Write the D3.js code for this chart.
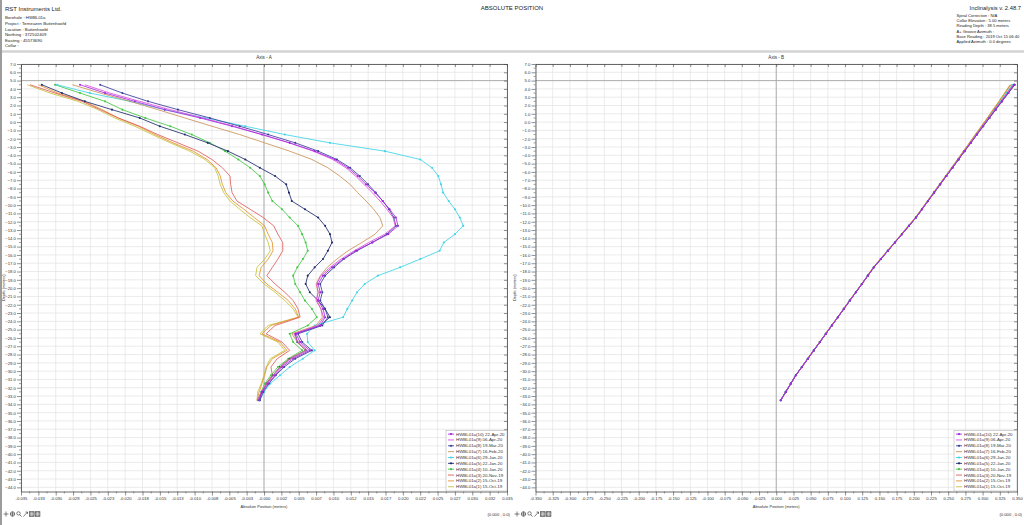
<!DOCTYPE html>
<html><head><meta charset="utf-8">
<script src="https://cdn.jsdelivr.net/npm/d3@7"></script>
<style>
html,body{margin:0;padding:0;background:#fff;}
svg{display:block;}
</style></head><body>
<svg id="c" width="1024" height="525"></svg>
<script>
// ---------------- DATA ----------------
const depths = [4.5,3.5,2.5,1.5,0.5,-0.5,-1.5,-2.5,-3.5,-4.5,-5.5,-6.5,-7.5,-8.5,-9.5,-10.5,-11.5,-12.5,-13.5,-14.5,-15.5,-16.5,-17.5,-18.5,-19.5,-20.5,-21.5,-22.5,-23.5,-24.5,-25.5,-26.5,-27.5,-28.5,-29.5,-30.5,-31.5,-32.5,-33.5];

const seriesLabels = ["HWBL01a(10) 22-Apr-20","HWBL01a(9) 06-Apr-20","HWBL01a(8) 19-Mar-20","HWBL01a(7) 16-Feb-20","HWBL01a(6) 29-Jan-20","HWBL01a(5) 22-Jan-20","HWBL01a(4) 10-Jan-20","HWBL01a(3) 20-Nov-19","HWBL01a(2) 15-Oct-19","HWBL01a(1) 15-Oct-19"];

// Axis A (meters)
const a10 = [-0.0265,-0.0229,-0.0186,-0.0143,-0.0092,-0.0046,-0.0003,0.0037,0.0073,0.0102,0.0121,0.0135,0.0147,0.0160,0.0171,0.0181,0.0190,0.0193,0.0179,0.0156,0.0132,0.0114,0.0098,0.0085,0.0078,0.0081,0.0078,0.0085,0.0088,0.0081,0.0046,0.0052,0.0066,0.0042,0.0026,0.0016,0.0006,-0.0003,-0.0007];
const a9  = [-0.0258,-0.0222,-0.0179,-0.0135,-0.0088,-0.0043,-0.0003,0.0036,0.0071,0.0099,0.0118,0.0132,0.0144,0.0156,0.0167,0.0177,0.0186,0.0189,0.0174,0.0151,0.0130,0.0111,0.0095,0.0082,0.0076,0.0078,0.0075,0.0082,0.0086,0.0078,0.0043,0.0049,0.0063,0.0039,0.0024,0.0014,0.0004,-0.0004,-0.0009];
const a8  = [-0.0236,-0.0204,-0.0167,-0.0124,-0.0078,-0.0035,0.0006,0.0045,0.0078,0.0105,0.0124,0.0138,0.0150,0.0161,0.0171,0.0180,0.0187,0.0190,0.0177,0.0156,0.0134,0.0115,0.0101,0.0088,0.0081,0.0084,0.0081,0.0088,0.0092,0.0084,0.0049,0.0055,0.0069,0.0045,0.0029,0.0017,0.0007,-0.0001,-0.0006];
const a7  = [-0.0276,-0.0236,-0.0193,-0.0153,-0.0114,-0.0075,-0.0035,0.0001,0.0037,0.0069,0.0092,0.0109,0.0124,0.0135,0.0147,0.0158,0.0167,0.0171,0.0160,0.0141,0.0121,0.0105,0.0091,0.0081,0.0075,0.0078,0.0076,0.0082,0.0084,0.0075,0.0040,0.0048,0.0060,0.0037,0.0023,0.0013,0.0004,-0.0004,-0.0009];
const a6  = [-0.0298,-0.0251,-0.0193,-0.0143,-0.0085,-0.0027,0.0030,0.0095,0.0174,0.0225,0.0242,0.0251,0.0255,0.0258,0.0266,0.0275,0.0282,0.0287,0.0275,0.0259,0.0253,0.0225,0.0196,0.0164,0.0145,0.0134,0.0127,0.0120,0.0114,0.0073,0.0062,0.0063,0.0073,0.0056,0.0037,0.0023,0.0009,0.0000,-0.0006];
const a5  = [-0.0320,-0.0291,-0.0258,-0.0219,-0.0179,-0.0150,-0.0114,-0.0081,-0.0052,-0.0027,-0.0006,0.0016,0.0032,0.0036,0.0040,0.0059,0.0078,0.0088,0.0095,0.0098,0.0092,0.0085,0.0073,0.0063,0.0060,0.0066,0.0078,0.0088,0.0095,0.0081,0.0045,0.0048,0.0060,0.0037,0.0023,0.0013,0.0004,-0.0003,-0.0007];
const a4  = [-0.0301,-0.0265,-0.0229,-0.0204,-0.0171,-0.0135,-0.0104,-0.0078,-0.0056,-0.0037,-0.0020,-0.0006,0.0001,0.0006,0.0012,0.0026,0.0037,0.0049,0.0055,0.0060,0.0063,0.0056,0.0048,0.0042,0.0045,0.0052,0.0059,0.0069,0.0076,0.0063,0.0037,0.0042,0.0055,0.0035,0.0020,0.0010,0.0001,-0.0004,-0.0009];
const a3  = [-0.0337,-0.0301,-0.0262,-0.0236,-0.0210,-0.0179,-0.0153,-0.0124,-0.0095,-0.0075,-0.0060,-0.0049,-0.0048,-0.0046,-0.0039,-0.0020,-0.0001,0.0014,0.0020,0.0027,0.0027,0.0020,0.0012,0.0004,0.0016,0.0030,0.0042,0.0049,0.0052,0.0016,0.0003,0.0026,0.0037,0.0019,0.0010,0.0012,0.0003,-0.0003,-0.0009];
const a2  = [-0.0325,-0.0297,-0.0259,-0.0233,-0.0210,-0.0181,-0.0157,-0.0131,-0.0102,-0.0082,-0.0069,-0.0063,-0.0060,-0.0055,-0.0045,-0.0029,-0.0014,0.0001,0.0006,0.0012,0.0013,0.0006,-0.0004,-0.0007,0.0004,0.0020,0.0035,0.0045,0.0050,0.0010,-0.0003,0.0023,0.0033,0.0012,0.0004,0.0001,-0.0003,-0.0007,-0.0010];
const a1  = [-0.0341,-0.0308,-0.0268,-0.0239,-0.0215,-0.0186,-0.0161,-0.0135,-0.0107,-0.0085,-0.0071,-0.0066,-0.0063,-0.0058,-0.0049,-0.0035,-0.0020,-0.0003,0.0001,0.0006,0.0009,0.0001,-0.0010,-0.0012,0.0000,0.0016,0.0030,0.0042,0.0049,0.0006,-0.0006,0.0020,0.0030,0.0009,0.0003,0.0000,-0.0004,-0.0009,-0.0010];

// Axis B (meters)
const b10 = [0.3466,0.3374,0.3282,0.3190,0.3099,0.3008,0.2918,0.2829,0.2738,0.2650,0.2562,0.2473,0.2384,0.2296,0.2207,0.2120,0.2032,0.1930,0.1828,0.1726,0.1624,0.1522,0.1420,0.1333,0.1246,0.1158,0.1071,0.0984,0.0897,0.0810,0.0722,0.0635,0.0548,0.0461,0.0373,0.0286,0.0213,0.0140,0.0066];
const b9  = [0.3448,0.3360,0.3270,0.3179,0.3091,0.3001,0.2911,0.2824,0.2733,0.2646,0.2558,0.2469,0.2380,0.2293,0.2205,0.2117,0.2030,0.1928,0.1826,0.1724,0.1622,0.1520,0.1418,0.1331,0.1244,0.1157,0.1069,0.0982,0.0895,0.0808,0.0720,0.0633,0.0546,0.0459,0.0371,0.0284,0.0211,0.0138,0.0065];
const b8  = [0.3462,0.3371,0.3280,0.3188,0.3098,0.3007,0.2917,0.2828,0.2737,0.2650,0.2562,0.2472,0.2383,0.2295,0.2207,0.2119,0.2032,0.1930,0.1828,0.1726,0.1623,0.1521,0.1419,0.1332,0.1245,0.1158,0.1070,0.0983,0.0896,0.0809,0.0721,0.0634,0.0547,0.0460,0.0372,0.0285,0.0212,0.0139,0.0066];
const b7  = [0.3412,0.3328,0.3244,0.3158,0.3073,0.2986,0.2898,0.2812,0.2723,0.2637,0.2550,0.2462,0.2374,0.2288,0.2200,0.2113,0.2025,0.1923,0.1822,0.1720,0.1618,0.1516,0.1414,0.1329,0.1242,0.1155,0.1067,0.0980,0.0893,0.0806,0.0718,0.0631,0.0544,0.0457,0.0370,0.0283,0.0210,0.0138,0.0065];
const b6  = [0.3430,0.3344,0.3256,0.3168,0.3081,0.2993,0.2905,0.2818,0.2728,0.2640,0.2553,0.2465,0.2377,0.2290,0.2202,0.2115,0.2027,0.1925,0.1824,0.1722,0.1620,0.1518,0.1416,0.1330,0.1243,0.1156,0.1068,0.0981,0.0894,0.0807,0.0719,0.0632,0.0545,0.0458,0.0370,0.0283,0.0211,0.0138,0.0065];
const b5  = [0.3455,0.3365,0.3274,0.3183,0.3094,0.3004,0.2914,0.2826,0.2735,0.2648,0.2560,0.2471,0.2382,0.2294,0.2206,0.2118,0.2031,0.1929,0.1827,0.1725,0.1622,0.1520,0.1418,0.1331,0.1244,0.1157,0.1069,0.0982,0.0895,0.0808,0.0720,0.0633,0.0546,0.0459,0.0371,0.0284,0.0211,0.0138,0.0065];
const b4  = [0.3470,0.3378,0.3285,0.3192,0.3101,0.3010,0.2919,0.2830,0.2739,0.2651,0.2563,0.2473,0.2384,0.2296,0.2207,0.2120,0.2032,0.1930,0.1828,0.1726,0.1623,0.1521,0.1419,0.1332,0.1245,0.1158,0.1070,0.0983,0.0896,0.0809,0.0721,0.0634,0.0547,0.0460,0.0372,0.0285,0.0212,0.0139,0.0066];
const b3  = [0.3441,0.3352,0.3262,0.3172,0.3085,0.2995,0.2906,0.2819,0.2729,0.2642,0.2555,0.2466,0.2378,0.2291,0.2203,0.2116,0.2029,0.1927,0.1825,0.1723,0.1621,0.1519,0.1417,0.1331,0.1244,0.1157,0.1069,0.0982,0.0895,0.0808,0.0720,0.0633,0.0546,0.0459,0.0371,0.0284,0.0212,0.0139,0.0065];
const b2  = [0.3405,0.3322,0.3240,0.3153,0.3070,0.2982,0.2895,0.2810,0.2721,0.2636,0.2549,0.2461,0.2372,0.2287,0.2198,0.2111,0.2022,0.1920,0.1819,0.1718,0.1615,0.1513,0.1411,0.1327,0.1241,0.1152,0.1065,0.0978,0.0892,0.0804,0.0717,0.0630,0.0542,0.0456,0.0369,0.0282,0.0210,0.0137,0.0064];
const b1  = [0.3398,0.3318,0.3236,0.3150,0.3068,0.2979,0.2893,0.2808,0.2719,0.2634,0.2548,0.2459,0.2371,0.2286,0.2196,0.2110,0.2021,0.1919,0.1818,0.1717,0.1614,0.1512,0.1410,0.1326,0.1240,0.1151,0.1064,0.0977,0.0891,0.0803,0.0716,0.0629,0.0541,0.0455,0.0368,0.0281,0.0209,0.0137,0.0064];

const xTickLabelsA = ["-0.035","-0.033","-0.030","-0.028","-0.025","-0.023","-0.020","-0.018","-0.015","-0.013","-0.010","-0.008","-0.005","-0.003","-0.000","0.002","0.005","0.007","0.010","0.012","0.015","0.017","0.020","0.022","0.025","0.027","0.030","0.032","0.035"];
const xTickLabelsB = ["-0.350","-0.325","-0.300","-0.275","-0.250","-0.225","-0.200","-0.175","-0.150","-0.125","-0.100","-0.075","-0.050","-0.025","0.000","0.025","0.050","0.075","0.100","0.125","0.150","0.175","0.200","0.225","0.250","0.275","0.300","0.325","0.350"];
const yTickValues = d3.range(7, -44.5, -1);
const collarElevation = 5.0;

const headerLeft = ["Borehole : HWBL01a","Project : Terneuzen Buitenhoofd","Location : Buitenhoofd","Northing : 372502409","Easting : 45573690","Collar :"];
const headerRight = ["Spiral Correction : N/A","Collar Elevation : 5.00 meters","Reading Depth : 38.5 meters","A+ Groove Azimuth :","Base Reading : 2019 Oct 15 06:40","Applied Azimuth : 0.0 degrees"];

// ---------------- STYLE ----------------
const seriesColors = ["#a52ae0","#e04ee0","#3a3f9a","#c99257","#3fd3e6","#1f2a6e","#45c645","#e05c5c","#e3922e","#c5c23a"];
const seriesMarkers = [true,false,true,false,true,true,true,false,false,false];
const FONT = '"Liberation Sans", Arial, Helvetica, sans-serif';

const seriesA = [a10,a9,a8,a7,a6,a5,a4,a3,a2,a1];
const seriesB = [b10,b9,b8,b7,b6,b5,b4,b3,b2,b1];

const svg = d3.select("#c").style("font-family", FONT);

// window chrome
svg.append("rect").attr("x",0).attr("y",0).attr("width",2).attr("height",525).attr("fill","#9c9c9c");
svg.append("rect").attr("x",2).attr("y",50.3).attr("width",1022).attr("height",2.4).attr("fill","#d2d2d2");

// header
svg.append("text").attr("x",5).attr("y",10.5).attr("font-size",6).attr("fill","#222").text("RST Instruments Ltd.");
svg.append("text").attr("x",512).attr("y",9.5).attr("font-size",6).attr("text-anchor","middle").attr("fill","#222").text("ABSOLUTE POSITION");
svg.append("text").attr("x",1021).attr("y",9.5).attr("font-size",5.8).attr("text-anchor","end").attr("fill","#222").text("Inclinalysis v. 2.48.7");
svg.selectAll("text.hl").data(headerLeft).enter().append("text").attr("class","hl")
  .attr("x",5).attr("y",(d,i)=>19.3+i*5.6).attr("font-size",4.3).attr("fill","#222").text(d=>d);
svg.selectAll("text.hr").data(headerRight).enter().append("text").attr("class","hr")
  .attr("x",956.5).attr("y",(d,i)=>17.2+i*5.1).attr("font-size",4.1).attr("fill","#222").text(d=>d);

const yScale = d3.scaleLinear().domain([7.0, -44.5]).range([64, 491.5]);

const panels = [
  { title:"Axis - A", x:d3.scaleLinear().domain([-0.035,0.035]).range([21,507]),
    step:0.0025, labels:xTickLabelsA, data:seriesA, legendX:446, readoutX:510, readoutAnchor:"end",
    toolbarX:3, depthX:5, id:"A" },
  { title:"Axis - B", x:d3.scaleLinear().domain([-0.35,0.35]).range([535.5,1017]),
    step:0.025, labels:xTickLabelsB, data:seriesB, legendX:954, readoutX:1022, readoutAnchor:"end",
    toolbarX:514, depthX:516, id:"B" }
];

function drawToolbar(x0){
  const g = svg.append("g").attr("transform",`translate(${x0},511)`).attr("stroke","#4a4a4a").attr("fill","none").attr("stroke-width",0.7);
  g.append("path").attr("d","M0.5,3 H5.5 M3,0.5 V5.5");
  g.append("circle").attr("cx",9.5).attr("cy",3).attr("r",2.2);
  g.append("path").attr("d","M7,3 H12 M9.5,0.5 V5.5");
  g.append("circle").attr("cx",15.5).attr("cy",2.4).attr("r",1.7);
  g.append("path").attr("d","M16.7,3.6 L18.5,5.6");
  g.append("path").attr("d","M20.5,5.5 L24.5,1 M22.5,1 H24.5 V3");
  g.append("rect").attr("x",26.5).attr("y",0.7).attr("width",4.6).attr("height",4.6).attr("fill","#9a9a9a");
  g.append("rect").attr("x",32.3).attr("y",0.7).attr("width",4.6).attr("height",4.6).attr("fill","#9a9a9a");
  g.append("path").attr("d","M26.5,3 H31.1 M28.8,0.7 V5.3 M32.3,3 H36.9 M34.6,0.7 V5.3").attr("stroke","#eee").attr("stroke-width",0.5);
}

panels.forEach(p => {
  const x = p.x;
  const [x0, x1] = x.range();
  const [y0, y1] = yScale.range();
  const cx = (x0 + x1) / 2;
  const nT = p.labels.length;
  const xTicks = d3.range(nT).map(i => x.domain()[0] + i * p.step);
  const xMinor = d3.range(nT - 1).map(i => x.domain()[0] + (i + 0.5) * p.step);
  const yMinor = d3.range(6.5, -44.5, -1);
  const g = svg.append("g");

  g.append("text").attr("x",cx).attr("y",58.8).attr("font-size",4.6).attr("text-anchor","middle").attr("fill","#333").text(p.title);

  // grid
  g.append("g").selectAll("line").data(yTickValues).enter().append("line")
    .attr("x1",x0).attr("x2",x1).attr("y1",d=>yScale(d)).attr("y2",d=>yScale(d))
    .attr("stroke","#e3e3e3").attr("stroke-width",0.7);
  g.append("g").selectAll("line").data(xTicks).enter().append("line")
    .attr("y1",y0).attr("y2",y1).attr("x1",d=>x(d)).attr("x2",d=>x(d))
    .attr("stroke","#e3e3e3").attr("stroke-width",0.7);
  g.append("line").attr("x1",x0).attr("x2",x1).attr("y1",yScale(collarElevation)).attr("y2",yScale(collarElevation))
    .attr("stroke","#a8a8a8").attr("stroke-width",0.9);
  g.append("line").attr("x1",x(0)).attr("x2",x(0)).attr("y1",y0).attr("y2",y1)
    .attr("stroke","#a8a8a8").attr("stroke-width",0.9);

  // axes
  const fmtIdx = (d) => p.labels[Math.round((d - x.domain()[0]) / p.step)];
  const ax = [
    g.append("g").attr("transform",`translate(0,${y1})`).call(d3.axisBottom(x).tickValues(xTicks).tickFormat(fmtIdx).tickSize(4).tickSizeOuter(0).tickPadding(1.2)),
    g.append("g").attr("transform",`translate(${x0},0)`).call(d3.axisLeft(yScale).tickValues(yTickValues).tickFormat(d3.format(".1f")).tickSize(4).tickSizeOuter(0).tickPadding(1.2)),
    g.append("g").attr("transform",`translate(0,${y0})`).call(d3.axisTop(x).tickValues(xTicks).tickFormat("").tickSize(-3).tickSizeOuter(0)),
    g.append("g").attr("transform",`translate(${x1},0)`).call(d3.axisRight(yScale).tickValues(yTickValues).tickFormat("").tickSize(-3).tickSizeOuter(0))
  ];
  ax.forEach(a => {
    a.attr("font-family", FONT).attr("font-size", 4.2);
    a.selectAll("text").attr("fill","#333");
    a.selectAll("line").attr("stroke","#444").attr("stroke-width",0.6);
    a.select(".domain").attr("stroke","#444").attr("stroke-width",0.8);
  });
  g.append("g").selectAll("line").data(xMinor).enter().append("line")
    .attr("x1",d=>x(d)).attr("x2",d=>x(d)).attr("y1",y1).attr("y2",y1+2).attr("stroke","#444").attr("stroke-width",0.5);
  g.append("g").selectAll("line").data(yMinor).enter().append("line")
    .attr("y1",d=>yScale(d)).attr("y2",d=>yScale(d)).attr("x1",x0-2).attr("x2",x0).attr("stroke","#444").attr("stroke-width",0.5);

  // axis titles
  g.append("text").attr("x",cx).attr("y",507.5).attr("font-size",4).attr("text-anchor","middle").attr("fill","#333").text("Absolute Position (meters)");
  g.append("text").attr("transform",`translate(${p.depthX},${(y0+y1)/2+10}) rotate(-90)`).attr("font-size",4).attr("text-anchor","middle").attr("fill","#333").text("Depth (meters)");

  // readout + toolbar
  g.append("text").attr("x",p.readoutX).attr("y",516).attr("font-size",4.2).attr("text-anchor",p.readoutAnchor).attr("fill","#333").text("(0.000 , 0.0)");
  drawToolbar(p.toolbarX);

  // series
  const clipId = "clip" + p.id;
  svg.append("clipPath").attr("id",clipId).append("rect").attr("x",x0).attr("y",y0).attr("width",x1-x0).attr("height",y1-y0);
  const sg = g.append("g").attr("clip-path",`url(#${clipId})`);
  const line = d3.line().x(d=>x(d[1])).y(d=>yScale(d[0]));
  for (let k = p.data.length - 1; k >= 0; k--) {
    const pts = depths.map((dp, i) => [dp, p.data[k][i]]);
    sg.append("path").datum(pts).attr("d", line).attr("fill","none")
      .attr("stroke", seriesColors[k]).attr("stroke-width", 0.85);
    if (seriesMarkers[k]) {
      sg.append("g").selectAll("circle").data(pts).enter().append("circle")
        .attr("cx", d=>x(d[1])).attr("cy", d=>yScale(d[0])).attr("r", 1.05).attr("fill", seriesColors[k]);
    }
  }

  // legend
  const lx = p.legendX, ly = 430.5, lw = x1 - lx, lh = 60.5;
  const lg = g.append("g");
  lg.append("rect").attr("x",lx).attr("y",ly).attr("width",lw).attr("height",lh).attr("fill","#fff").attr("stroke","#b5b5b5").attr("stroke-width",0.6);
  seriesLabels.forEach((lab, i) => {
    const yy = ly + 3.6 + i * 5.85;
    lg.append("line").attr("x1",lx+2).attr("x2",lx+8).attr("y1",yy).attr("y2",yy).attr("stroke",seriesColors[i]).attr("stroke-width",0.9);
    if (seriesMarkers[i]) lg.append("circle").attr("cx",lx+5).attr("cy",yy).attr("r",1.1).attr("fill",seriesColors[i]);
    lg.append("text").attr("x",lx+10).attr("y",yy+1.5).attr("font-size",4.4).attr("fill","#333").text(lab);
  });
});
</script>
</body></html>
